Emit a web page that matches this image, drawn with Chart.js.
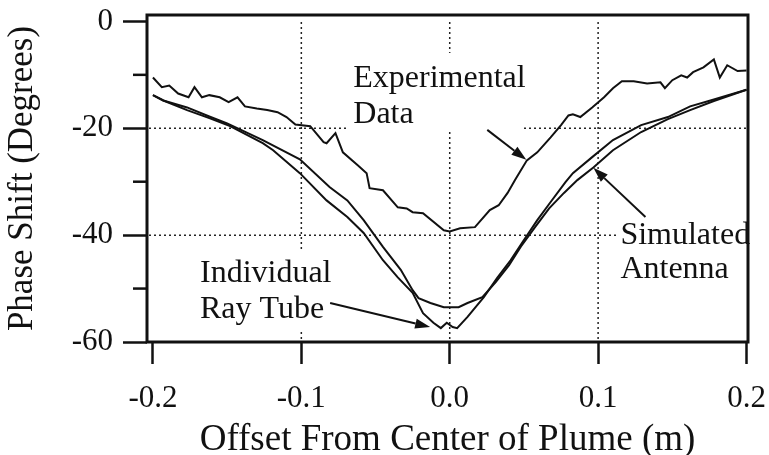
<!DOCTYPE html>
<html>
<head>
<meta charset="utf-8">
<script src="https://cdn.jsdelivr.net/npm/chart.js@4.4.1/dist/chart.umd.min.js"></script>
<style>
html, body { margin: 0; padding: 0; background: #fff; }
#wrap { width: 769px; height: 455px; }
</style>
</head>
<body>
<div id="wrap"><canvas id="phase-chart"></canvas></div>
<script>
// axes
const xTicks = [-0.2, -0.1, 0, 0.1, 0.2];
const yTicks = [0, -20, -40, -60];
const yMinorTicks = [-10, -30, -50];
const gridX = [-0.1, 0, 0.1];
const gridY = [-20, -40];

// Experimental Data
const expX = [-0.200, -0.194, -0.189, -0.183, -0.176, -0.172, -0.167, -0.162, -0.155, -0.149,
  -0.143, -0.138, -0.130, -0.123, -0.116, -0.110, -0.104, -0.094, -0.085, -0.083,
  -0.077, -0.072, -0.062, -0.056, -0.054, -0.045, -0.035, -0.029, -0.025, -0.018,
  -0.004, 0.000, 0.007, 0.017, 0.027, 0.033, 0.039, 0.044, 0.052, 0.059,
  0.068, 0.075, 0.080, 0.083, 0.088, 0.096, 0.104, 0.110, 0.116, 0.124,
  0.133, 0.142, 0.145, 0.150, 0.156, 0.160, 0.164, 0.171, 0.178, 0.182,
  0.187, 0.194, 0.200];
const expY = [-10.5, -12.3, -12.0, -13.5, -14.2, -12.3, -14.2, -13.8, -14.2, -15.1,
  -14.2, -15.9, -16.3, -16.6, -17.0, -17.9, -19.3, -19.6, -22.6, -22.8,
  -20.9, -24.5, -26.9, -28.4, -31.2, -31.6, -34.8, -35.0, -35.7, -35.9,
  -39.1, -39.3, -38.7, -38.5, -35.3, -34.4, -32.1, -29.7, -26.0, -24.5,
  -21.7, -19.4, -17.6, -17.4, -17.9, -16.1, -14.2, -12.5, -11.2, -11.2,
  -11.6, -11.4, -12.5, -11.0, -10.1, -10.5, -9.5, -8.6, -7.1, -10.5,
  -8.2, -9.3, -9.2];

// Individual Ray Tube
const rayX = [-0.200, -0.193, -0.177, -0.162, -0.148, -0.126, -0.119, -0.101, -0.083, -0.069,
  -0.058, -0.045, -0.035, -0.025, -0.018, -0.011, -0.006, -0.002, 0.002, 0.005,
  0.012, 0.023, 0.032, 0.041, 0.050, 0.059, 0.068, 0.078, 0.083, 0.096,
  0.110, 0.129, 0.147, 0.162, 0.178, 0.200];
const rayY = [-13.8, -14.8, -16.6, -18.1, -19.6, -22.8, -24.1, -28.4, -33.5, -36.6,
  -39.6, -44.7, -47.9, -50.8, -54.6, -56.4, -57.4, -56.4, -57.2, -57.4,
  -55.3, -51.6, -48.0, -44.7, -40.9, -37.2, -33.8, -30.1, -28.4, -25.4,
  -22.2, -19.4, -17.9, -15.9, -14.6, -12.8];

// Simulated Antenna
const antX = [-0.200, -0.193, -0.177, -0.162, -0.150, -0.126, -0.101, -0.081, -0.069, -0.058,
  -0.045, -0.033, -0.025, -0.021, -0.013, -0.004, 0.006, 0.012, 0.022, 0.031,
  0.040, 0.048, 0.058, 0.067, 0.077, 0.086, 0.097, 0.110, 0.129, 0.147,
  0.162, 0.178, 0.200];
const antY = [-13.8, -14.8, -16.1, -17.8, -19.1, -22.2, -25.8, -31.0, -33.5, -37.2,
  -42.2, -46.5, -50.3, -51.8, -52.7, -53.5, -53.5, -52.7, -51.6, -48.8,
  -45.6, -42.1, -38.3, -35.0, -32.1, -29.7, -27.3, -24.1, -20.7, -18.3,
  -16.6, -14.9, -12.8];

// callouts, placed in data units: [text, x, y]
const notes = [
  ['Experimental', -0.065, -12.3], ['Data', -0.065, -19.0],
  ['Simulated', 0.1150, -41.7], ['Antenna', 0.1150, -48.0],
  ['Individual', -0.1683, -48.8], ['Ray Tube', -0.1683, -55.5]
];
// areas where the dotted grid is left out: [x0, x1, y0, y1]
const noteBoxes = [[-0.0685, 0.0496, -5.9, -20.3], [0.1137, 0.21, -36.2, -50.3], [-0.1717, -0.0772, -42.8, -57.8]];
// arrows: [fromX, fromY, tipX, tipY]
const arrows = [[0.0253, -20.3, 0.0516, -25.9], [0.1319, -36.6, 0.0968, -27.4], [-0.0806, -52.7, -0.0132, -57.2]];

const serif = '"Liberation Serif", "Times New Roman", serif';
const ink = '#111';

function toPoints(xs, ys) {
    return xs.map((x, i) => ({ x: x, y: ys[i] }));
}

const overlay = {
    id: 'overlay',
    beforeDatasetsDraw(chart) {
        const { ctx, chartArea: a, scales: { x, y } } = chart;
        ctx.save();
        ctx.strokeStyle = '#222';
        ctx.lineWidth = 1.5;
        ctx.setLineDash([2, 3]);
        gridX.forEach(v => {
            const p = x.getPixelForValue(v);
            ctx.beginPath(); ctx.moveTo(p, a.top + 7); ctx.lineTo(p, a.bottom); ctx.stroke();
        });
        gridY.forEach(v => {
            const p = y.getPixelForValue(v);
            ctx.beginPath(); ctx.moveTo(a.left + 2, p); ctx.lineTo(a.right, p); ctx.stroke();
        });
        ctx.setLineDash([]);
        ctx.fillStyle = '#fff';
        noteBoxes.forEach(([x0, x1, y0, y1]) => {
            const l = x.getPixelForValue(x0), r = x.getPixelForValue(x1);
            const t = y.getPixelForValue(y0), b = y.getPixelForValue(y1);
            ctx.fillRect(l, t, r - l, b - t);
        });
        ctx.restore();
    },
    afterDatasetsDraw(chart) {
        const { ctx, chartArea: a, scales: { x, y } } = chart;
        ctx.save();
        // frame
        ctx.strokeStyle = ink;
        ctx.lineWidth = 3;
        ctx.strokeRect(a.left, a.top, a.right - a.left, a.bottom - a.top);
        // minor ticks on the y axis
        ctx.lineWidth = 2.5;
        yMinorTicks.forEach(v => {
            const p = y.getPixelForValue(v);
            ctx.beginPath(); ctx.moveTo(a.left - 14, p); ctx.lineTo(a.left, p); ctx.stroke();
        });
        // callout text
        ctx.fillStyle = ink;
        ctx.font = '32px ' + serif;
        ctx.textAlign = 'left';
        ctx.textBaseline = 'alphabetic';
        notes.forEach(([t, vx, vy]) => ctx.fillText(t, x.getPixelForValue(vx), y.getPixelForValue(vy)));
        // arrows
        ctx.lineWidth = 2;
        arrows.forEach(([fx, fy, tx, ty]) => {
            const x0 = x.getPixelForValue(fx), y0 = y.getPixelForValue(fy);
            const x1 = x.getPixelForValue(tx), y1 = y.getPixelForValue(ty);
            const ang = Math.atan2(y1 - y0, x1 - x0);
            const len = 15, half = 5;
            const bx = x1 - len * Math.cos(ang), by = y1 - len * Math.sin(ang);
            ctx.beginPath(); ctx.moveTo(x0, y0); ctx.lineTo(bx, by); ctx.stroke();
            ctx.beginPath();
            ctx.moveTo(x1, y1);
            ctx.lineTo(bx + half * Math.sin(ang), by - half * Math.cos(ang));
            ctx.lineTo(bx - half * Math.sin(ang), by + half * Math.cos(ang));
            ctx.closePath();
            ctx.fill();
        });
        ctx.restore();
    }
};

const lineStyle = { borderColor: ink, borderWidth: 2, pointRadius: 0, showLine: true, tension: 0, fill: false };

new Chart(document.getElementById('phase-chart'), {
    type: 'scatter',
    data: {
        datasets: [
            Object.assign({ label: 'Experimental Data', data: toPoints(expX, expY) }, lineStyle),
            Object.assign({ label: 'Simulated Antenna', data: toPoints(antX, antY) }, lineStyle),
            Object.assign({ label: 'Individual Ray Tube', data: toPoints(rayX, rayY) }, lineStyle)
        ]
    },
    options: {
        responsive: true,
        maintainAspectRatio: false,
        animation: false,
        layout: { padding: { top: 15, right: 21, left: 0, bottom: 0 } },
        plugins: {
            legend: { display: false },
            tooltip: { enabled: false }
        },
        scales: {
            x: {
                type: 'linear',
                min: -0.204,
                max: 0.201,
                afterBuildTicks: s => { s.ticks = xTicks.map(v => ({ value: v })); },
                afterFit: s => { s.height = 113; s.paddingLeft = 0; s.paddingRight = 0; },
                grid: { drawOnChartArea: false, drawTicks: true, tickLength: 22, tickColor: ink, tickWidth: 2.5 },
                border: { display: false },
                ticks: {
                    font: { family: serif, size: 31 },
                    color: ink,
                    padding: 16,
                    maxRotation: 0,
                    autoSkip: false,
                    callback: v => v.toFixed(1)
                },
                title: {
                    display: true,
                    text: 'Offset From Center of Plume (m)',
                    font: { family: serif, size: 37, lineHeight: 0.8 },
                    color: ink,
                    padding: { top: 0, bottom: 0 }
                }
            },
            y: {
                min: -60,
                max: 1.2,
                afterBuildTicks: s => { s.ticks = yTicks.map(v => ({ value: v })); },
                afterFit: s => { s.width = 147; s.paddingTop = 0; s.paddingBottom = 0; },
                grid: { drawOnChartArea: false, drawTicks: true, tickLength: 24, tickColor: ink, tickWidth: 2.5 },
                border: { display: false },
                ticks: {
                    font: { family: serif, size: 31 },
                    color: ink,
                    padding: 10,
                    callback: v => String(v)
                },
                title: {
                    display: true,
                    text: 'Phase Shift (Degrees)',
                    font: { family: serif, size: 35, lineHeight: 0.8 },
                    color: ink,
                    padding: { top: 9, bottom: 0 }
                }
            }
        }
    },
    plugins: [overlay]
});
</script>
</body>
</html>
